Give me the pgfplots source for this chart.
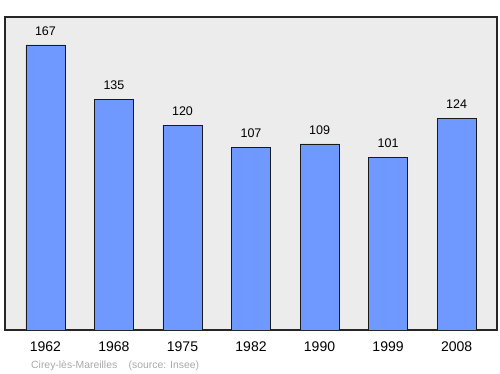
\documentclass[border=0pt]{standalone}
\usepackage{pgfplots}
\pgfplotsset{compat=1.18}
\usepackage{fontspec}
\setmainfont{Liberation Sans}
\definecolor{barblue}{HTML}{7099FF}
\definecolor{bggray}{HTML}{ECECEC}
\definecolor{footgray}{HTML}{A8A8A8}
\begin{document}
\begin{tikzpicture}[x=1pt,y=1pt]
\useasboundingbox (0,0) rectangle (500,374);
\begin{axis}[
  at={(5pt,44pt)}, anchor=south west,
  scale only axis, width=492pt, height=313pt,
  xmin=-0.59, xmax=6.59, ymin=0, ymax=183.4,
  axis background/.style={fill=bggray},
  axis line style={line width=1.1pt, black!85},
  ytick=\empty,
  xtick={0,1,2,3,4,5,6},
  xticklabels={1962,1968,1975,1982,1990,1999,2008},
  major tick length=0pt,
  xticklabel style={font=\fontsize{14}{16}\selectfont, yshift=-8.5pt},
  /pgf/number format/assume math mode=true,
  nodes near coords,
  nodes near coords style={font=\fontsize{12.5}{14}\selectfont, yshift=6pt, /pgf/number format/fixed, /pgf/number format/precision=0},
]
\addplot[ybar, bar width=39pt, fill=barblue, draw=black!90, line width=0.8pt] coordinates {
(0,167) (1,135) (2,120) (3,107) (4,109) (5,101) (6,124)
};
\end{axis}
\node[anchor=base west, inner sep=0pt, text=footgray, font=\fontsize{10.4}{12}\selectfont] at (31,5) {Cirey-lès-Mareilles\hspace{1.1em}(source: Insee)};
\end{tikzpicture}
\end{document}
